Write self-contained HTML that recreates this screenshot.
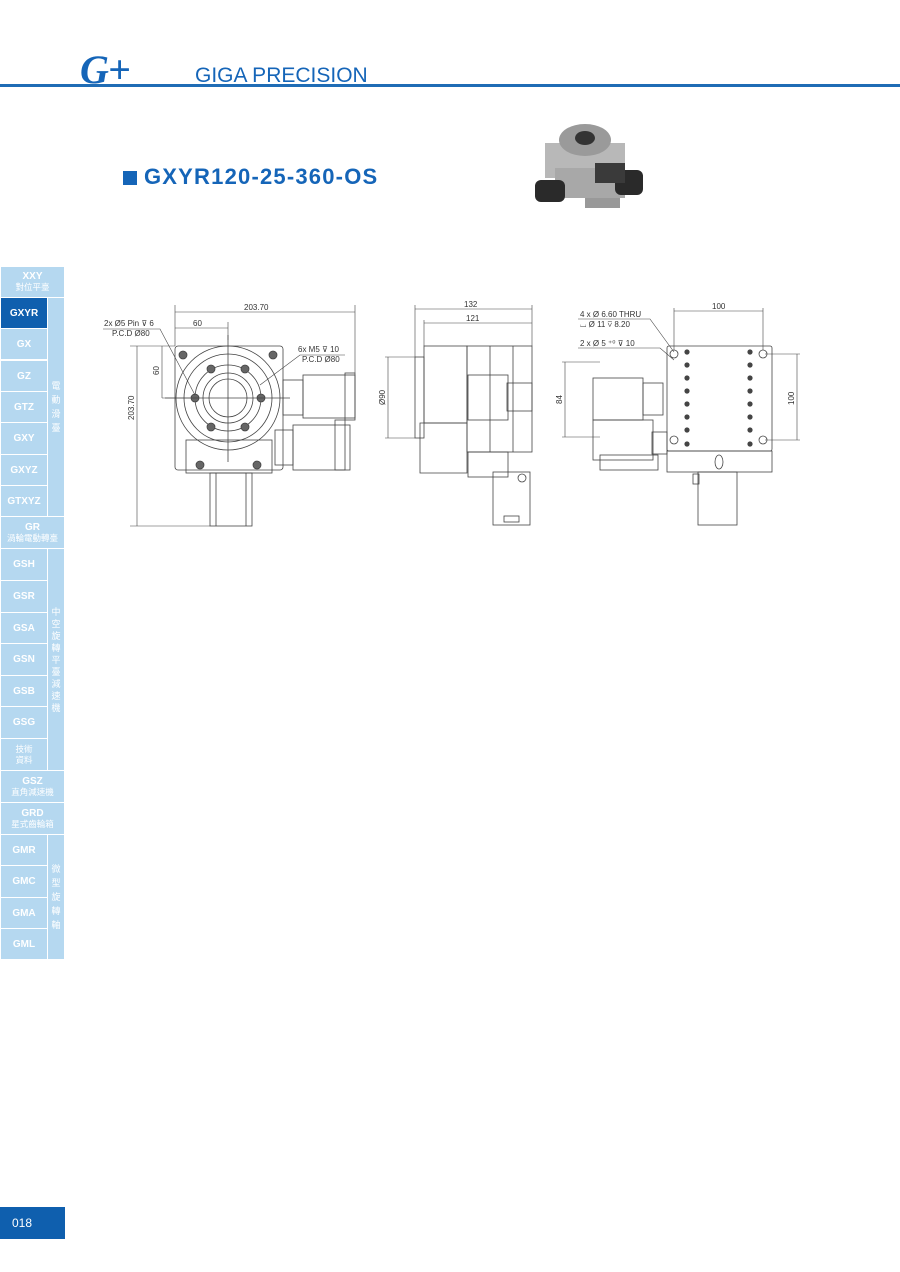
<!DOCTYPE html>
<html><head><meta charset="utf-8"><style>
body{margin:0;width:900px;height:1272px;background:#fff;position:relative;overflow:hidden;font-family:"Liberation Sans","Noto Sans CJK TC",sans-serif}
.a{position:absolute}
.c{position:absolute;background:#b5d8f0;color:#fff;font-size:10px;font-weight:bold;display:flex;flex-direction:column;align-items:center;justify-content:center;text-align:center;line-height:11px;box-sizing:border-box;border:1px solid #fff}
.c small{font-size:8.5px;font-weight:normal}
.v{position:absolute;background:#b5d8f0;color:#fff;font-size:9px;display:flex;flex-direction:column;align-items:center;justify-content:center;line-height:14px;box-sizing:border-box;border:1px solid #fff}
</style></head><body>
<div class="a" style="left:0;top:84px;width:900px;height:3px;background:#1f6cb5"></div>
<div class="a" style="left:80px;top:46px;font:italic bold 40px 'Liberation Serif',serif;color:#1565b8;letter-spacing:-1px">G+</div>
<div class="a" style="left:195px;top:64px;font-size:21px;color:#1565b8">GIGA PRECISION</div>
<div class="a" style="left:123px;top:171px;width:14px;height:14px;background:#1565b8"></div>
<div class="a" style="left:144px;top:164px;font-size:22px;font-weight:bold;color:#1565b8;letter-spacing:1.2px">GXYR120-25-360-OS</div>
<svg class="a" style="left:525px;top:108px" width="130" height="112">
<rect x="20" y="35" width="80" height="35" fill="#b8b8b8"/>
<ellipse cx="60" cy="32" rx="26" ry="16" fill="#9a9a9a"/><ellipse cx="60" cy="30" rx="10" ry="7" fill="#333"/>
<rect x="30" y="60" width="70" height="30" fill="#a8a8a8"/>
<rect x="10" y="72" width="30" height="22" rx="6" fill="#2a2a2a"/>
<rect x="90" y="62" width="28" height="25" rx="6" fill="#2a2a2a"/>
<rect x="70" y="55" width="30" height="20" fill="#3a3a3a"/>
<rect x="60" y="90" width="35" height="10" fill="#999"/>
</svg>
<!-- sidebar -->
<div class="c" style="left:0;top:266px;width:65px;height:32px">XXY<small>對位平臺</small></div>
<div class="c" style="left:0;top:297px;width:48px;height:32px;background:#0f5fae">GXYR</div>
<div class="c" style="left:0;top:328px;width:48px;height:32px">GX</div>
<div class="c" style="left:0;top:360px;width:48px;height:32px">GZ</div>
<div class="c" style="left:0;top:391px;width:48px;height:32px">GTZ</div>
<div class="c" style="left:0;top:422px;width:48px;height:33px">GXY</div>
<div class="c" style="left:0;top:454px;width:48px;height:32px">GXYZ</div>
<div class="c" style="left:0;top:485px;width:48px;height:32px">GTXYZ</div>
<div class="v" style="left:47px;top:297px;width:18px;height:220px"><span>電</span><span>動</span><span>滑</span><span>臺</span></div>
<div class="c" style="left:0;top:516px;width:65px;height:33px">GR<small>渦輪電動轉臺</small></div>
<div class="c" style="left:0;top:548px;width:48px;height:33px">GSH</div>
<div class="c" style="left:0;top:580px;width:48px;height:33px">GSR</div>
<div class="c" style="left:0;top:612px;width:48px;height:32px">GSA</div>
<div class="c" style="left:0;top:643px;width:48px;height:33px">GSN</div>
<div class="c" style="left:0;top:675px;width:48px;height:32px">GSB</div>
<div class="c" style="left:0;top:706px;width:48px;height:33px">GSG</div>
<div class="c" style="left:0;top:738px;width:48px;height:33px"><small>技術</small><small>資料</small></div>
<div class="v" style="left:47px;top:548px;width:18px;height:223px;line-height:12px"><span>中</span><span>空</span><span>旋</span><span>轉</span><span>平</span><span>臺</span><span>減</span><span>速</span><span>機</span></div>
<div class="c" style="left:0;top:770px;width:65px;height:33px">GSZ<small>直角減速機</small></div>
<div class="c" style="left:0;top:802px;width:65px;height:33px">GRD<small>星式齒輪箱</small></div>
<div class="c" style="left:0;top:834px;width:48px;height:32px">GMR</div>
<div class="c" style="left:0;top:865px;width:48px;height:33px">GMC</div>
<div class="c" style="left:0;top:897px;width:48px;height:32px">GMA</div>
<div class="c" style="left:0;top:928px;width:48px;height:32px">GML</div>
<div class="v" style="left:47px;top:834px;width:18px;height:126px"><span>微</span><span>型</span><span>旋</span><span>轉</span><span>軸</span></div>
<div class="a" style="left:0;top:1207px;width:65px;height:32px;background:#0f5fae;color:#fff;font-size:12px;line-height:32px;padding-left:12px;box-sizing:border-box">018</div>
<!-- drawings -->
<svg class="a" style="left:0;top:0" width="900" height="560" font-family="Liberation Sans" font-size="8" fill="none" stroke="#444" stroke-width="0.8">
<rect x="175" y="346" width="108" height="124" rx="3"/>
<rect x="186" y="440" width="86" height="33"/>
<circle cx="228" cy="398" r="52"/><circle cx="228" cy="398" r="44"/><circle cx="228" cy="398" r="33"/><circle cx="228" cy="398" r="25"/><circle cx="228" cy="398" r="19"/>
<g fill="#666"><circle cx="183" cy="355" r="4"/><circle cx="273" cy="355" r="4"/><circle cx="200" cy="465" r="4"/><circle cx="257" cy="465" r="4"/>
<circle cx="195" cy="398" r="4"/><circle cx="261" cy="398" r="4"/><circle cx="211" cy="369" r="4"/><circle cx="245" cy="369" r="4"/><circle cx="211" cy="427" r="4"/><circle cx="245" cy="427" r="4"/></g>
<line x1="228" y1="335" x2="228" y2="462"/><line x1="165" y1="398" x2="290" y2="398"/>
<rect x="210" y="473" width="42" height="53"/><line x1="216" y1="473" x2="216" y2="526"/><line x1="246" y1="473" x2="246" y2="526"/>
<rect x="283" y="380" width="20" height="35"/><rect x="303" y="375" width="52" height="43"/><rect x="345" y="373" width="10" height="47"/>
<rect x="293" y="425" width="57" height="45"/><rect x="335" y="420" width="10" height="50"/><rect x="275" y="430" width="18" height="35"/>
<g stroke-width="0.6"><line x1="175" y1="346" x2="175" y2="305"/><line x1="355" y1="373" x2="355" y2="305"/><line x1="175" y1="312" x2="355" y2="312"/>
<line x1="228" y1="322" x2="228" y2="340"/><line x1="175" y1="328" x2="228" y2="328"/>
<line x1="130" y1="346" x2="175" y2="346"/><line x1="130" y1="526" x2="210" y2="526"/><line x1="137" y1="346" x2="137" y2="526"/>
<line x1="162" y1="346" x2="162" y2="398"/><line x1="162" y1="398" x2="190" y2="398"/>
<polyline points="103,329 160,329 195,395"/><polyline points="345,355 300,355 260,385"/></g>
<rect x="424" y="346" width="43" height="77"/><rect x="415" y="357" width="9" height="81"/>
<path d="M420 423h47v50h-47z"/><rect x="467" y="346" width="65" height="106"/>
<line x1="490" y1="346" x2="490" y2="452"/><line x1="513" y1="346" x2="513" y2="452"/>
<rect x="468" y="375" width="40" height="45"/><rect x="507" y="383" width="25" height="28"/>
<rect x="468" y="452" width="40" height="25"/><rect x="493" y="472" width="37" height="53"/><rect x="504" y="516" width="15" height="6"/>
<circle cx="522" cy="478" r="4"/>
<g stroke-width="0.6"><line x1="415" y1="305" x2="415" y2="357"/><line x1="532" y1="305" x2="532" y2="346"/><line x1="415" y1="309" x2="532" y2="309"/>
<line x1="424" y1="320" x2="424" y2="346"/><line x1="424" y1="323" x2="532" y2="323"/>
<line x1="385" y1="357" x2="415" y2="357"/><line x1="385" y1="438" x2="415" y2="438"/><line x1="388" y1="357" x2="388" y2="438"/>
<line x1="562" y1="362" x2="600" y2="362"/><line x1="562" y1="437" x2="600" y2="437"/><line x1="565" y1="362" x2="565" y2="437"/>
<line x1="674" y1="308" x2="674" y2="350"/><line x1="763" y1="308" x2="763" y2="350"/><line x1="674" y1="311" x2="763" y2="311"/>
<line x1="765" y1="354" x2="800" y2="354"/><line x1="765" y1="440" x2="800" y2="440"/><line x1="797" y1="354" x2="797" y2="440"/>
<polyline points="578,319 650,319 674,352"/><polyline points="578,348 660,348 674,360"/></g>
<rect x="667" y="346" width="105" height="105" rx="2"/><rect x="667" y="451" width="105" height="21"/>
<rect x="698" y="472" width="39" height="53"/><rect x="693" y="474" width="6" height="10"/>
<rect x="593" y="378" width="50" height="42"/><rect x="643" y="383" width="20" height="32"/>
<rect x="593" y="420" width="60" height="40"/><rect x="600" y="455" width="58" height="15"/><rect x="652" y="432" width="15" height="22"/>
<circle cx="674" cy="354" r="4"/><circle cx="763" cy="354" r="4"/><circle cx="674" cy="440" r="4"/><circle cx="763" cy="440" r="4"/>
<g fill="#444" stroke="none">
<circle cx="687" cy="352" r="2.6"/><circle cx="687" cy="365" r="2.6"/><circle cx="687" cy="378" r="2.6"/><circle cx="687" cy="391" r="2.6"/><circle cx="687" cy="404" r="2.6"/><circle cx="687" cy="417" r="2.6"/><circle cx="687" cy="430" r="2.6"/><circle cx="687" cy="444" r="2.6"/>
<circle cx="750" cy="352" r="2.6"/><circle cx="750" cy="365" r="2.6"/><circle cx="750" cy="378" r="2.6"/><circle cx="750" cy="391" r="2.6"/><circle cx="750" cy="404" r="2.6"/><circle cx="750" cy="417" r="2.6"/><circle cx="750" cy="430" r="2.6"/><circle cx="750" cy="444" r="2.6"/>
</g>
<ellipse cx="719" cy="462" rx="4" ry="7"/>
<g fill="#333" stroke="none">
<text x="244" y="310">203.70</text><text x="193" y="326">60</text>
<text x="104" y="326">2x Ø5 Pin ⊽ 6</text><text x="112" y="336">P.C.D Ø80</text>
<text x="298" y="352">6x M5 ⊽ 10</text><text x="302" y="362">P.C.D Ø80</text>
<text x="0" y="0" transform="translate(134,420) rotate(-90)">203.70</text>
<text x="0" y="0" transform="translate(159,375) rotate(-90)">60</text>
<text x="464" y="307">132</text><text x="466" y="321">121</text>
<text x="0" y="0" transform="translate(385,405) rotate(-90)">Ø90</text>
<text x="0" y="0" transform="translate(562,404) rotate(-90)">84</text>
<text x="580" y="317">4 x Ø 6.60 THRU</text><text x="580" y="327">⌴  Ø 11 ⊽ 8.20</text>
<text x="580" y="346">2 x Ø 5 ⁺⁰ ⊽ 10</text>
<text x="712" y="309">100</text>
<text x="0" y="0" transform="translate(794,405) rotate(-90)">100</text>
</g>
</svg>
</body></html>
